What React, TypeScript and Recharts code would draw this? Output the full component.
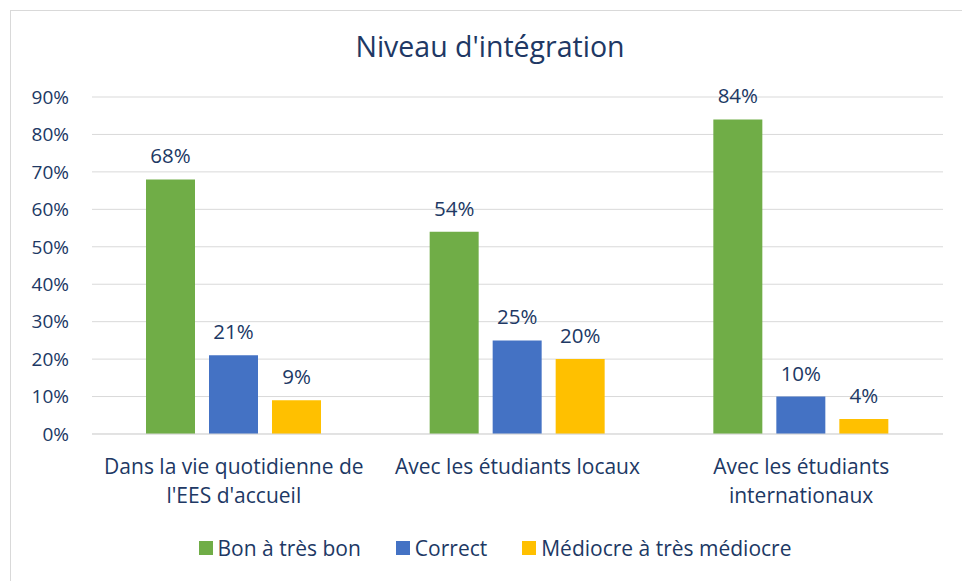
import React from 'react'
import { BarChart, Bar, XAxis, YAxis, CartesianGrid, Legend, LabelList } from 'recharts'

const categories = ["Dans la vie quotidienne de\nl'EES d'accueil", "Avec les étudiants locaux", "Avec les étudiants\ninternationaux"]
const bonValues = [68, 54, 84]
const correctValues = [21, 25, 10]
const mediocreValues = [9, 20, 4]
const yTicks = [0, 10, 20, 30, 40, 50, 60, 70, 80, 90]

const seriesNames = ["Bon à très bon", "Correct", "Médiocre à très médiocre"]

const TEXT = "#203864"
const FONT = "'Open Sans', sans-serif"

const data = categories.map((name, i) => ({
    name,
    bon: bonValues[i],
    correct: correctValues[i],
    mediocre: mediocreValues[i],
}))

function CategoryTick({ x, y, payload }: any) {
    const lines = String(payload.value).split('\n')
    return (
        <text x={x} y={y} textAnchor="middle" fill={TEXT} fontSize={21} fontFamily={FONT}>
            {lines.map((line, i) => (
                <tspan key={i} x={x} dy={i === 0 ? 32 : 28.5}>{line}</tspan>
            ))}
        </text>
    )
}

function LegendContent({ payload }: any) {
    return (
        <div style={{ display: 'flex', justifyContent: 'center', gap: 35, fontFamily: FONT, fontSize: 21, lineHeight: '24px', color: TEXT }}>
            {(payload || []).map((item: any) => (
                <div key={item.value} style={{ display: 'flex', alignItems: 'center' }}>
                    <span style={{ display: 'inline-block', width: 14, height: 14, background: item.color, marginRight: 5 }} />
                    <span>{item.value}</span>
                </div>
            ))}
        </div>
    )
}

const pct = (v: any) => `${v}%`

export default function App() {
    return (
        <div style={{ position: 'fixed', left: 0, top: 0, width: 962, height: 581, background: '#fff', overflow: 'hidden' }}>
            <div style={{ position: 'absolute', left: 10, top: 10, right: 0, height: 1, background: '#d9d9d9' }} />
            <div style={{ position: 'absolute', left: 10, top: 10, bottom: 0, width: 1, background: '#d9d9d9' }} />
            <div style={{ position: 'absolute', left: 0, width: 980, top: 27, textAlign: 'center', fontFamily: FONT, fontSize: 28.5, color: TEXT }}>
                Niveau d'intégration
            </div>
            <div style={{ position: 'absolute', left: 0, top: 0 }}>
                <BarChart width={962} height={581} data={data} margin={{ top: 97, right: 19, bottom: 20, left: 0 }} barSize={49} barGap={14}>
                    <CartesianGrid vertical={false} stroke="#d9d9d9" strokeWidth={1} />
                    <XAxis dataKey="name" axisLine={{ stroke: '#d9d9d9', strokeWidth: 1 }} tickLine={false} tick={<CategoryTick />} height={103} interval={0} />
                    <YAxis domain={[0, 90]} ticks={yTicks} tickFormatter={pct} axisLine={false} tickLine={false} tickSize={0} tickMargin={23} width={92}
                        tick={{ fill: TEXT, fontSize: 19, fontFamily: FONT }} />
                    <Legend verticalAlign="bottom" content={<LegendContent />} wrapperStyle={{ left: 0, width: 990, bottom: 21 }} />
                    <Bar dataKey="bon" name={seriesNames[0]} fill="#70ad47" isAnimationActive={false}>
                        <LabelList dataKey="bon" position="top" offset={16} formatter={pct} fill={TEXT} fontSize={20.5} fontFamily={FONT} />
                    </Bar>
                    <Bar dataKey="correct" name={seriesNames[1]} fill="#4472c4" isAnimationActive={false}>
                        <LabelList dataKey="correct" position="top" offset={16} formatter={pct} fill={TEXT} fontSize={20.5} fontFamily={FONT} />
                    </Bar>
                    <Bar dataKey="mediocre" name={seriesNames[2]} fill="#ffc000" isAnimationActive={false}>
                        <LabelList dataKey="mediocre" position="top" offset={16} formatter={pct} fill={TEXT} fontSize={20.5} fontFamily={FONT} />
                    </Bar>
                </BarChart>
            </div>
        </div>
    )
}
